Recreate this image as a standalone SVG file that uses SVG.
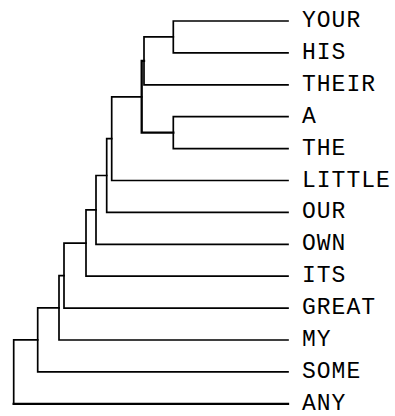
<svg xmlns="http://www.w3.org/2000/svg" width="395" height="416" viewBox="0 0 395 416">
<style>
.c{fill:none;stroke:#000;stroke-width:1.7;stroke-linecap:square;stroke-linejoin:miter}
.t{stroke-width:2.3}
.l{font-family:"Liberation Mono","DejaVu Sans Mono",monospace;font-size:23px;letter-spacing:1px;fill:#000}
</style>
<rect width="395" height="416" fill="#fff"/>
<g id="connectors">
<path class="c" d="M288 21H173.3V52.9H288"/>
<path class="c" d="M173.3 36.95H144V84.8H288"/>
<path class="c" d="M288 116.7H173.3V148.6H288"/>
<path class="c t" d="M144 60.9H141.7V132.65H173.3"/>
<path class="c" d="M141.7 96.8H111.7V180.5H288"/>
<path class="c" d="M111.7 138.6H106.7V212.4H288"/>
<path class="c" d="M106.7 175.5H96V244.3H288"/>
<path class="c" d="M96 209.9H86V276.2H288"/>
<path class="c" d="M86 243.05H64V308.1H288"/>
<path class="c" d="M64 275.6H59V340H288"/>
<path class="c" d="M59 307.8H37.7V371.9H288"/>
<path class="c" d="M37.7 339.85H13.7V403.8H288"/>
<path class="c t" d="M13.7 403.8H288"/>
</g>
<g id="leaf-YOUR"><text class="l" x="302" y="27">YOUR</text></g>
<g id="leaf-HIS"><text class="l" x="302" y="58.9">HIS</text></g>
<g id="leaf-THEIR"><text class="l" x="302" y="90.8">THEIR</text></g>
<g id="leaf-A"><text class="l" x="302" y="122.7">A</text></g>
<g id="leaf-THE"><text class="l" x="302" y="154.6">THE</text></g>
<g id="leaf-LITTLE"><text class="l" x="302" y="186.5">LITTLE</text></g>
<g id="leaf-OUR"><text class="l" x="302" y="218.4">OUR</text></g>
<g id="leaf-OWN"><text class="l" x="302" y="250.3">OWN</text></g>
<g id="leaf-ITS"><text class="l" x="302" y="282.2">ITS</text></g>
<g id="leaf-GREAT"><text class="l" x="302" y="314.1">GREAT</text></g>
<g id="leaf-MY"><text class="l" x="302" y="346">MY</text></g>
<g id="leaf-SOME"><text class="l" x="302" y="377.9">SOME</text></g>
<g id="leaf-ANY"><text class="l" x="302" y="409.8">ANY</text></g>
</svg>
